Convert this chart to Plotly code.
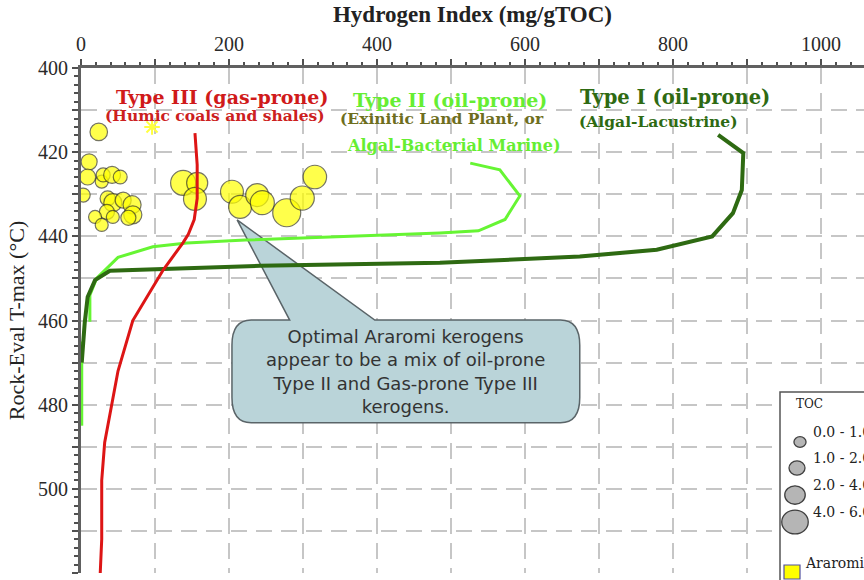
import plotly.graph_objects as go

# ---------------- data ----------------
# Type III (gas-prone) reference curve: Hydrogen Index vs Tmax
type3_hi = [154, 157, 157, 153, 145, 138, 111, 70, 50, 42, 32, 28, 28, 26]
type3_tmax = [415.5, 423, 431, 436, 439.5, 441.5, 448, 460, 472, 480, 489, 498, 512, 520]

# Type II (oil-prone) reference curve
type2_hi = [526, 566, 593, 573, 537, 485, 222, 143, 97, 50, 21, 12, 12, None, 1, 1]
type2_tmax = [422.6, 424.2, 430.4, 436, 438.7, 439.2, 440.9, 441.6, 442.5, 445, 450, 454, 460.3, None, 465, 485]

# Type I (oil-prone) reference curve
type1_hi = [861, 895, 893, 881, 853, 778, 674, 485, 242, 147, 39, 19, 9, 5, 3, 1]
type1_tmax = [415.9, 420.2, 429, 434.5, 440, 443.2, 444.8, 446.3, 447, 447.6, 448.2, 450.4, 454.4, 460.6, 466, 470]

# Araromi samples
araromi_hi = [24, 11, 9, 28, 30, 42, 53, 3, 36, 43, 57, 69, 70, 35, 19, 28, 43, 64,
              138, 157, 154, 204, 215, 238, 245, 278, 299, 316]
araromi_tmax = [415.2, 422.3, 425.9, 427, 425.4, 425.4, 425.9, 430.2, 431, 432, 431.4, 432.5,
                434.9, 434.2, 435.4, 437.3, 435.4, 435.6,
                427.3, 427.3, 431.1, 429.4, 433, 430.2, 432, 434.4, 430.9, 425.9]
araromi_toc = [2.5, 2.0, 2.0, 1.0, 1.3, 2.3, 1.3, 1.3, 1.7, 2.7, 2.0, 2.7, 2.7, 1.7, 1.0, 1.0, 1.0, 1.7,
               5.0, 3.7, 4.3, 4.3, 4.3, 4.3, 4.7, 6.0, 4.7, 4.5]

star_hi = [96]
star_tmax = [414]

toc_classes = ["0.0 - 1.0", "1.0 - 2.0", "2.0 - 4.0", "4.0 - 6.0"]
toc_class_mid = [0.7, 2.0, 3.5, 5.5]

x_tickvals = list(range(0, 1001, 100))
x_ticktext = [str(v) if v % 200 == 0 else "" for v in x_tickvals]
y_tickvals = list(range(400, 521, 10))
y_ticktext = [str(v) if v % 20 == 0 else "" for v in y_tickvals]


def toc_size(t):
    return 10 + 3.0 * t


# ---------------- figure ----------------
L, R, T, B = 81, 864, 68, 573
W, H = 864, 580


def pxx(p):
    return (p - L) / (R - L)


def pxy(p):
    return (B - p) / (B - T)


fig = go.Figure()

fig.add_trace(go.Scatter(
    x=araromi_hi, y=araromi_tmax, mode="markers",
    marker=dict(size=[toc_size(t) for t in araromi_toc], color="#FFFF00",
                line=dict(color="#3a3a20", width=1.2)),
    hoverinfo="skip"))

fig.add_trace(go.Scatter(
    x=star_hi, y=star_tmax, mode="markers",
    marker=dict(symbol="asterisk-open", size=13, color="#FFFF40",
                line=dict(color="#FFFF40", width=2)),
    hoverinfo="skip"))

fig.add_trace(go.Scatter(x=type2_hi, y=type2_tmax, mode="lines",
                         line=dict(color="#66F533", width=3), hoverinfo="skip"))
fig.add_trace(go.Scatter(x=type1_hi, y=type1_tmax, mode="lines",
                         line=dict(color="#2E6A12", width=4), hoverinfo="skip"))
fig.add_trace(go.Scatter(x=type3_hi, y=type3_tmax, mode="lines",
                         line=dict(color="#DD1515", width=3), hoverinfo="skip"))

serif = "Liberation Serif"
wserif = "DejaVu Serif"

# callout balloon (data coordinates)
bx0, bx1, by0, by1 = 204, 674, 459.9, 484.3
rx, ry = 26, 6.0
tip_x, tip_y = 211, 436.1
base0, base1 = 282, 397
path = (f"M {bx0+rx},{by0} L {base0},{by0} L {tip_x},{tip_y} L {base1},{by0} "
        f"L {bx1-rx},{by0} Q {bx1},{by0} {bx1},{by0+ry} L {bx1},{by1-ry} "
        f"Q {bx1},{by1} {bx1-rx},{by1} L {bx0+rx},{by1} Q {bx0},{by1} {bx0},{by1-ry} "
        f"L {bx0},{by0+ry} Q {bx0},{by0} {bx0+rx},{by0} Z")
shapes = [dict(type="path", path=path, xref="x", yref="y", layer="between",
               fillcolor="#BAD4D9", line=dict(color="#5a6468", width=1.5))]

# TOC legend box
shapes.append(dict(type="rect", xref="paper", yref="paper", layer="above",
                   x0=pxx(780), x1=pxx(880), y0=pxy(392), y1=pxy(600),
                   fillcolor="white", line=dict(color="#555555", width=1.5)))
leg_cx = [800, 797, 795, 795]
leg_cy = [442, 468, 495, 522]
for cx, cy, t in zip(leg_cx, leg_cy, toc_class_mid):
    d = toc_size(t)
    shapes.append(dict(type="circle", xref="paper", yref="paper", layer="above",
                       xsizemode="pixel", ysizemode="pixel",
                       xanchor=pxx(cx), yanchor=pxy(cy),
                       x0=-d / 2, x1=d / 2, y0=-d / 2 * 0.9, y1=d / 2 * 0.9,
                       fillcolor="#B5B5B5", line=dict(color="#404040", width=1.3)))
shapes.append(dict(type="rect", xref="paper", yref="paper", layer="above",
                   xsizemode="pixel", ysizemode="pixel",
                   xanchor=pxx(792), yanchor=pxy(572),
                   x0=-8, x1=8, y0=-7, y1=7,
                   fillcolor="#FFFF00", line=dict(color="#5050a0", width=1.2)))

ann = []


def add_text(x, y, text, size, color, family=wserif, bold=True, xanchor="center"):
    ann.append(dict(x=x, y=y, xref="x", yref="y", text=(f"<b>{text}</b>" if bold else text),
                    showarrow=False, xanchor=xanchor, yanchor="middle",
                    font=dict(family=family, size=size, color=color)))


add_text(190, 406.9, "Type III (gas-prone)", 19, "#D01A1A")
add_text(181, 411.2, "(Humic coals and shales)", 15.5, "#CC2020")
add_text(499, 407.6, "Type II (oil-prone)", 19, "#66EE33")
add_text(488, 411.9, "(Exinitic Land Plant, or", 15.5, "#6E6E1E")
add_text(504, 418.3, "Algal-Bacterial Marine)", 16, "#66EE33")
add_text(803, 406.9, "Type I (oil-prone)", 19.5, "#2E6A12")
add_text(780, 412.8, "(Algal-Lacustrine)", 15.5, "#2E6A12")

ann.append(dict(x=439, y=472.2, xref="x", yref="y", showarrow=False,
                text="Optimal Araromi kerogens<br>appear to be a mix of oil-prone<br>"
                     "Type II and Gas-prone Type III<br>kerogens.",
                align="center", font=dict(family="DejaVu Sans", size=18, color="#333333")))

# legend texts
ann.append(dict(x=pxx(825), y=pxy(413), xref="paper", yref="paper", showarrow=False,
                text="TOC", font=dict(family=wserif, size=12, color="#222")))
for cy, lab in zip(leg_cy, toc_classes):
    ann.append(dict(x=pxx(811), y=pxy(cy), xref="paper", yref="paper", showarrow=False,
                    xanchor="left", text=lab, font=dict(family=wserif, size=14, color="#222")))
ann.append(dict(x=pxx(803), y=pxy(573), xref="paper", yref="paper", showarrow=False,
                xanchor="left", text="Araromi", font=dict(family=wserif, size=14, color="#222")))

grid = dict(showgrid=True, gridcolor="#C6C6C6", gridwidth=1.6, griddash="16px,9px",
            zeroline=False, showline=True, linecolor="#606060", linewidth=3,
            ticks="outside", ticklen=6, tickwidth=1.5, tickcolor="#505050",
            tickfont=dict(family=serif, size=20, color="#2a2a2a"))

fig.update_xaxes(range=[0, (R - L) / 0.74], side="top", tickmode="array",
                 tickvals=x_tickvals, ticktext=x_ticktext,
                 minor=dict(dtick=20, tick0=0, ticks="outside", ticklen=3, tickwidth=1.5,
                            tickcolor="#505050", showgrid=False),
                 title=dict(text="<b>Hydrogen Index (mg/gTOC)</b>", standoff=4,
                            font=dict(family=serif, size=23, color="#222")),
                 **grid)
fig.update_yaxes(range=[520, 400], tickmode="array",
                 tickvals=y_tickvals, ticktext=y_ticktext,
                 minor=dict(dtick=2, tick0=400, ticks="outside", ticklen=4, tickwidth=1.5,
                            tickcolor="#505050", showgrid=False),
                 title=dict(text="Rock-Eval T-max (°C)", standoff=8,
                            font=dict(family=serif, size=22, color="#222")),
                 **grid)

fig.update_layout(width=W, height=H, margin=dict(l=L, r=W - R, t=T, b=H - B),
                  plot_bgcolor="white", paper_bgcolor="white", showlegend=False,
                  shapes=shapes, annotations=ann)

fig.write_html("out.html")
